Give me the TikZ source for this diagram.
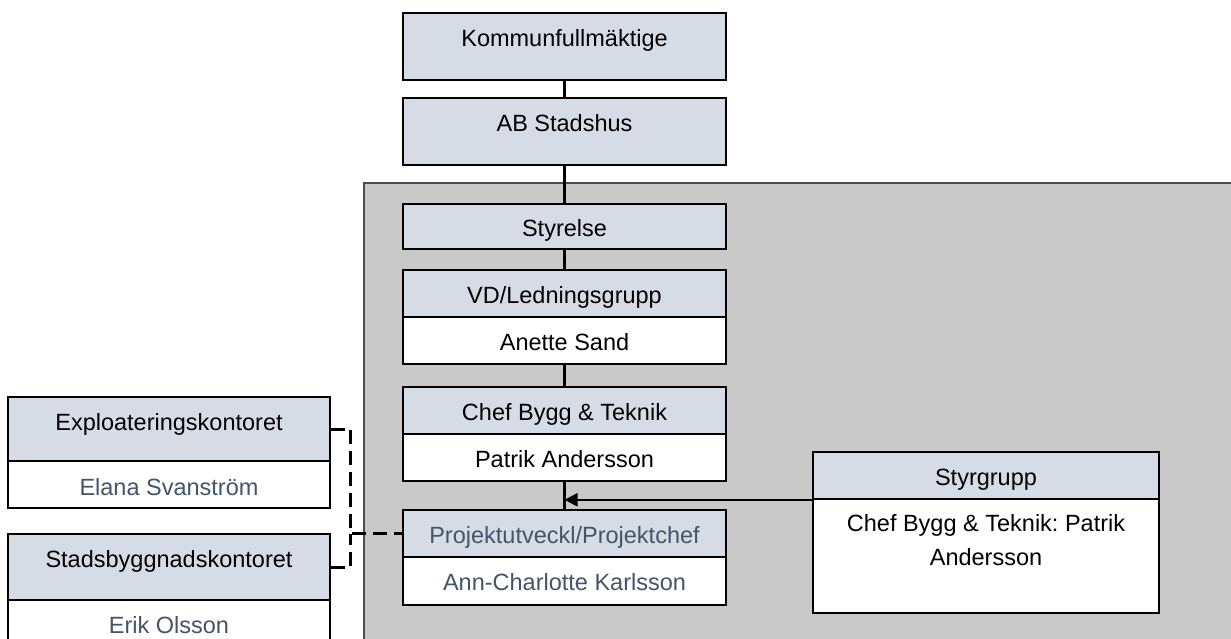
\documentclass[tikz,border=0pt]{standalone}
\usepackage{fontspec}
\setmainfont{Liberation Sans}
\usetikzlibrary{arrows.meta}
\definecolor{hdr}{HTML}{D6DCE5}
\definecolor{slate}{HTML}{44546A}
\definecolor{bggray}{HTML}{C9C9C9}
\frenchspacing
\begin{document}
\begin{tikzpicture}[x=1pt,y=-1pt,
  font=\fontsize{23.5}{33.3}\selectfont,
  box/.style={draw=black, line width=1.6pt, inner sep=0pt, text height=19pt, text depth=0pt, minimum height=47pt},
  hbox/.style={box, fill=hdr},
  bbox/.style={box, fill=white},
  midw/.style={minimum width=323pt},
  leftw/.style={minimum width=322pt},
  conn/.style={line width=2.5pt},
  dconn/.style={line width=3pt, dash pattern=on 14pt off 7pt}]
\useasboundingbox (0,0) rectangle (1231,638);
\clip (0,0) rectangle (1231,638);
% background panel
\path[fill=bggray, draw=black!70, line width=1.5pt] (364,183) rectangle (1245,660);
% central column
\node[hbox, midw, minimum height=67pt, text depth=19.5pt] (kf) at (564.5,46.5) {Kommunfullmäktige};
\node[hbox, midw, minimum height=67pt, text depth=19.5pt] (ab) at (564.5,131.5) {AB Stadshus};
\node[hbox, midw, minimum height=45pt] (sty) at (564.5,226.5) {Styrelse};
\node[hbox, midw] (vdh) at (564.5,293.5) {VD/Ledningsgrupp};
\node[bbox, midw] (vdb) at (564.5,340.5) {Anette Sand};
\node[hbox, midw] (cbh) at (564.5,410.5) {Chef Bygg \& Teknik};
\node[bbox, midw] (cbb) at (564.5,457.5) {Patrik Andersson};
\node[hbox, midw, text=slate] (pjh) at (564.5,533.5) {Projektutveckl/Projektchef};
\node[bbox, midw, text=slate, minimum height=48pt] (pjb) at (564.5,581) {Ann-Charlotte Karlsson};
% Styrgrupp
\node[hbox, minimum width=346pt] (sgh) at (986,475.5) {Styrgrupp};
\node[bbox, minimum width=346pt, minimum height=114pt] (sgb) at (986,556) {};
\node[anchor=north, align=center, inner sep=0pt] (sgt) at (986,514.5) {Chef Bygg \& Teknik: Patrik\\Andersson};
% left boxes
\node[hbox, leftw, minimum height=64pt, text depth=17pt] (exh) at (169,429) {Exploateringskontoret};
\node[bbox, leftw, text=slate, text height=21pt] (exb) at (169,484.5) {Elana Svanström};
\node[hbox, leftw, minimum height=66pt, text depth=18pt] (sbh) at (169,567) {Stadsbyggnadskontoret};
\node[bbox, leftw, text=slate, minimum height=48pt] (sbb) at (169,624) {Erik Olsson};
% connectors
\draw[conn] (kf) -- (ab);
\draw[conn] (ab) -- (sty);
\draw[conn] (sty) -- (vdh);
\draw[conn] (vdb) -- (cbh);
\draw[conn] (cbb) -- (pjh);
\coordinate (j) at (cbb.south |- sgh.south west);
\draw[line width=2.2pt, -{Triangle[length=13pt,width=13pt]}] (sgh.south west) -- (j);
\coordinate (dj) at (350.5,533.5);
\draw[dconn] (exh.east) -| (dj) -- (pjh.west);
\draw[dconn] (sbh.east) -| (dj);
\end{tikzpicture}
\end{document}
